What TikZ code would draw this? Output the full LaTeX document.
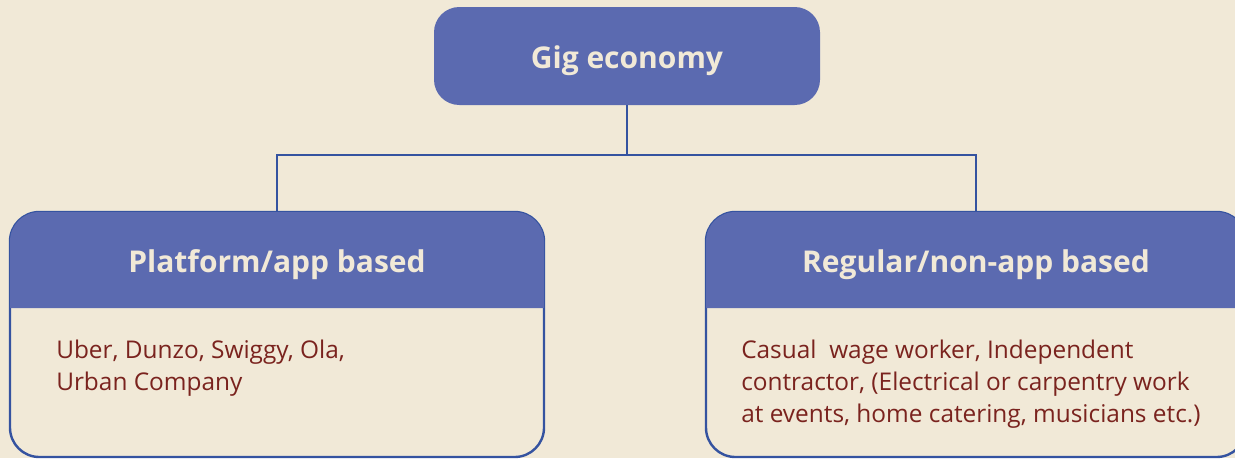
\documentclass[tikz,border=0pt]{standalone}
\usepackage{fontspec}
\setmainfont{Open Sans}
\definecolor{paper}{HTML}{F1E9D7}
\definecolor{headblue}{HTML}{5B6AB0}
\definecolor{linkblue}{HTML}{3553A0}
\definecolor{bodyred}{HTML}{7A231E}
\begin{document}
\begin{tikzpicture}[x=0.75pt,y=-0.75pt,
  top/.style = {fill=headblue, rounded corners=19pt, minimum width=289.5pt, minimum height=73.5pt,
    text=paper, font=\bfseries\fontsize{22.5}{27}\selectfont, text height=19pt, text depth=0pt},
  box/.style = {draw=linkblue, line width=1.8pt, fill=paper, rounded corners=22pt, minimum height=183.75pt},
  head/.style = {text=paper, font=\bfseries\fontsize{22.5}{27}\selectfont, anchor=base},
  body/.style = {text=bodyred, font=\fontsize{18.3}{24}\selectfont, align=left, anchor=base west, inner sep=0pt},
  link/.style = {draw=linkblue, line width=1.8pt}]
\useasboundingbox (0,0) rectangle (1235,458);
\clip (0,0) rectangle (1235,458);
\fill[paper] (0,0) rectangle (1235,458);

% top
\node[top] (gig) at (627,56) {Gig economy};
\coordinate (split) at (627,155);

% the two kinds
\node[box, minimum width=400.5pt] (platform) at (277,334.5) {};
\node[box, minimum width=405pt] (regular) at (976,334.5) {};
\fill[headblue] (10,308) [rounded corners=22pt] -- (10,212) -- (544,212) [sharp corners] -- (544,308) -- cycle;
\fill[headblue] (706,308) [rounded corners=22pt] -- (706,212) -- (1246,212) [sharp corners] -- (1246,308) -- cycle;

\node[head] (platformhead) at (277,272) {Platform/app based};
\node[head] (regularhead) at (976,272) {Regular/non-app based};

% anchored on the last line
\node[body] (platformtext) at (56,390) {Uber, Dunzo, Swiggy, Ola,\\Urban Company};
\node[body] (regulartext) at (741,422) {Casual\ \ wage worker, Independent\\contractor, (Electrical or carpentry work\\at events, home catering, musicians etc.)};

\draw[link] (gig.south) -- (split);
\draw[link] (split) -| (platform.north);
\draw[link] (split) -| (regular.north);
\end{tikzpicture}
\end{document}
